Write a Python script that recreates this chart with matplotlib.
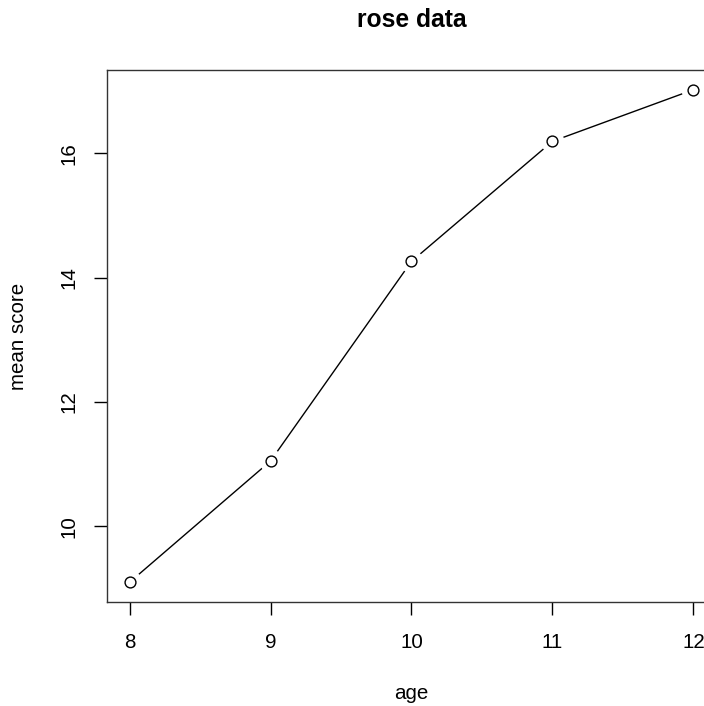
import matplotlib
matplotlib.use("Agg")
import matplotlib.pyplot as plt

plt.rcParams["font.family"] = ["Liberation Sans", "DejaVu Sans"]

age = [8, 9, 10, 11, 12]
mean_score = [9.10, 11.05, 14.26, 16.19, 17.02]
xticks = [8, 9, 10, 11, 12]
yticks = [10, 12, 14, 16]

W, H = 704, 706
fig = plt.figure(figsize=(W / 100, H / 100), dpi=100)

# plot region, R style: right edge falls outside the image
left, right, top, bottom = 107, 716, 70, 602
ax = fig.add_axes([left / W, (H - bottom) / H, (right - left) / W, (bottom - top) / H])

ax.plot(age, mean_score, color="black", lw=1.0, zorder=1)
# white halo to leave the gaps like type="b"
ax.plot(age, mean_score, ls="none", marker="o", ms=17, mfc="white", mec="none", zorder=2)
ax.plot(age, mean_score, ls="none", marker="o", ms=7.8, mfc="white", mec="black", mew=1.0, zorder=3)

xr = max(age) - min(age)
yr = max(mean_score) - min(mean_score)
ax.set_xlim(min(age) - 0.04 * xr, max(age) + 0.04 * xr)
ax.set_ylim(min(mean_score) - 0.04 * yr, max(mean_score) + 0.04 * yr)

fs = 14.8
ax.set_xticks(xticks)
ax.set_yticks(yticks)
ax.set_xticklabels([str(v) for v in xticks])
ax.set_yticklabels([str(v) for v in yticks], rotation=90, va="center")
ax.tick_params(axis="both", direction="out", length=9.4, width=1.0, labelsize=fs, color="black")
ax.tick_params(axis="x", pad=13)
ax.tick_params(axis="y", pad=11)

for s in ax.spines.values():
    s.set_linewidth(1.0)
    s.set_color("#333333")

fig.text((left + right) / 2 / W, 1 - 27 / H, "rose data", ha="center", va="baseline",
         fontsize=fs * 1.2, fontweight="bold")
fig.text((left + right) / 2 / W, 1 - 699 / H, "age", ha="center", va="baseline", fontsize=fs)
fig.text(18.5 / W, 1 - (top + bottom) / 2 / H, "mean score", ha="center", va="center",
         rotation=90, fontsize=fs)

fig.savefig("out.png", dpi=100)
